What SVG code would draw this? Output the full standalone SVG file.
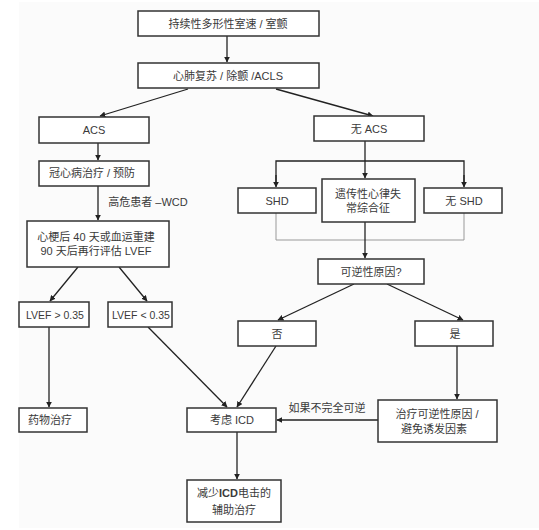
<svg xmlns="http://www.w3.org/2000/svg" width="539" height="530" viewBox="0 0 539 530">
<defs>
<marker id="ah" viewBox="0 0 10 10" refX="9" refY="5" markerWidth="6" markerHeight="6" markerUnits="userSpaceOnUse" orient="auto">
<path d="M0,0 L10,5 L0,10 z" fill="#222"/>
</marker>
<style>
.box{fill:#fff;stroke:#333;stroke-width:1.5}
.t{font-family:"Liberation Sans","Noto Sans CJK SC",sans-serif;font-size:11px;fill:#3a3a3a;text-anchor:middle;dominant-baseline:central}
.s{font-size:10.5px}
.c{stroke:#222;stroke-width:1.3;fill:none}
.g{stroke:#999;stroke-width:1;fill:none}
</style>
</defs>
<rect x="0" y="0" width="539" height="530" fill="#fff"/>
<rect x="19" y="2" width="520" height="526" fill="#fbfbfb"/>
<g id="connectors">
<line class="c" x1="227" y1="36" x2="227" y2="62" marker-end="url(#ah)"/>
<line class="c" x1="188" y1="89" x2="100" y2="116" marker-end="url(#ah)"/>
<line class="c" x1="276" y1="89" x2="373" y2="116" marker-end="url(#ah)"/>
<line class="c" x1="98" y1="143" x2="98" y2="160" marker-end="url(#ah)"/>
<line class="c" x1="365" y1="141" x2="365" y2="178" marker-end="url(#ah)"/>
<polyline class="c" points="276,186 276,161 464,161 464,186"/>
<line class="c" x1="276" y1="175" x2="276" y2="187" marker-end="url(#ah)"/>
<line class="c" x1="464" y1="175" x2="464" y2="187" marker-end="url(#ah)"/>
<polyline class="g" points="276,213 276,240 464,240 464,213"/>
<line class="c" x1="365" y1="222" x2="365" y2="258" marker-end="url(#ah)"/>
<line class="c" x1="354" y1="284" x2="278" y2="320" marker-end="url(#ah)"/>
<line class="c" x1="387" y1="284" x2="463" y2="320" marker-end="url(#ah)"/>
<line class="c" x1="98" y1="186" x2="98" y2="220" marker-end="url(#ah)"/>
<text class="t" x="148" y="202">高危患者 –WCD</text>
<line class="c" x1="78" y1="267" x2="50" y2="301" marker-end="url(#ah)"/>
<line class="c" x1="119" y1="267" x2="147" y2="301" marker-end="url(#ah)"/>
<line class="c" x1="49" y1="327" x2="49" y2="407" marker-end="url(#ah)"/>
<line class="c" x1="148" y1="327" x2="227" y2="407" marker-end="url(#ah)"/>
<line class="c" x1="276" y1="346" x2="237" y2="407" marker-end="url(#ah)"/>
<line class="c" x1="457" y1="346" x2="457" y2="399" marker-end="url(#ah)"/>
<line class="c" x1="378" y1="420" x2="277" y2="420" marker-end="url(#ah)"/>
<text class="t" x="327" y="408">如果不完全可逆</text>
<line class="c" x1="237" y1="432" x2="237" y2="479" marker-end="url(#ah)"/>
</g>
<g id="n1"><rect class="box" x="138" y="11" width="181" height="25"/><text class="t" x="228" y="24">持续性多形性室速 / 室颤</text></g>
<g id="n2"><rect class="box" x="138" y="63" width="181" height="25"/><text class="t" x="228" y="76">心肺复苏 / 除颤 /ACLS</text></g>
<g id="n3"><rect class="box" x="39" y="117" width="110" height="26"/><text class="t" x="94" y="130">ACS</text></g>
<g id="n4"><rect class="box" x="314" y="116" width="110" height="25"/><text class="t" x="369" y="129">无 ACS</text></g>
<g id="n5"><rect class="box" x="39" y="161" width="110" height="25"/><text class="t" x="92" y="173">冠心病治疗 / 预防</text></g>
<g id="n6"><rect class="box" x="238" y="188" width="78" height="25"/><text class="t" x="277" y="201">SHD</text></g>
<g id="n7"><rect class="box" x="322" y="179" width="93" height="43"/><text class="t" x="368" y="194">遗传性心律失</text><text class="t" x="368" y="208">常综合征</text></g>
<g id="n8"><rect class="box" x="424" y="188" width="78" height="25"/><text class="t" x="464" y="201">无 SHD</text></g>
<g id="n9"><rect class="box" x="27" y="221" width="142" height="46"/><text class="t" x="96" y="237">心梗后 40 天或血运重建</text><text class="t" x="96" y="251">90 天后再行评估 LVEF</text></g>
<g id="n10"><rect class="box" x="318" y="259" width="106" height="25"/><text class="t" x="371" y="272">可逆性原因?</text></g>
<g id="n11"><rect class="box" x="19" y="302" width="70" height="25"/><text class="t s" x="55" y="315">LVEF &gt; 0.35</text></g>
<g id="n12"><rect class="box" x="108" y="302" width="64" height="25"/><text class="t s" x="141" y="315">LVEF &lt; 0.35</text></g>
<g id="n13"><rect class="box" x="238" y="321" width="78" height="25"/><text class="t" x="277" y="334">否</text></g>
<g id="n14"><rect class="box" x="415" y="321" width="78" height="25"/><text class="t" x="455" y="334">是</text></g>
<g id="n15"><rect class="box" x="19" y="408" width="68" height="24"/><text class="t" x="50" y="420">药物治疗</text></g>
<g id="n16"><rect class="box" x="187" y="408" width="89" height="24"/><text class="t" x="232" y="420">考虑 ICD</text></g>
<g id="n17"><rect class="box" x="378" y="400" width="119" height="42"/><text class="t" x="437" y="414">治疗可逆性原因 /</text><text class="t" x="434" y="429">避免诱发因素</text></g>
<g id="n18"><rect class="box" x="187" y="480" width="94" height="42"/><text class="t" x="234" y="493">减少<tspan font-weight="bold">ICD</tspan>电击的</text><text class="t" x="234" y="510">辅助治疗</text></g>
</svg>
